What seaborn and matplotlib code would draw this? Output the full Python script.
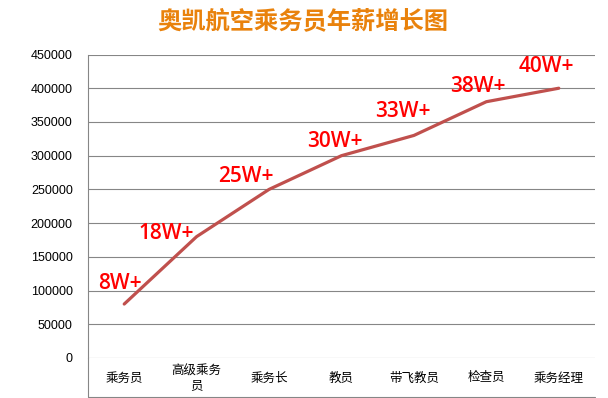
import matplotlib
matplotlib.use("Agg")
import matplotlib.pyplot as plt
import seaborn as sns
import pandas as pd

categories = ["乘务员", "高级乘务\n员", "乘务长", "教员", "带飞教员", "检查员", "乘务经理"]
salary = [80000, 180000, 250000, 300000, 330000, 380000, 400000]
point_labels = ["8W+", "18W+", "25W+", "30W+", "33W+", "38W+", "40W+"]
yticks = [0, 50000, 100000, 150000, 200000, 250000, 300000, 350000, 400000, 450000]
title = "奥凯航空乘务员年薪增长图"

# label offsets (points) relative to each data point
label_offsets = [(-3, 15), (-22, 2), (-17, 9), (-5, 10), (-8, 17), (-6, 11), (-9, 16)]

sns.set_style("white")
plt.rcParams["font.family"] = ["Noto Sans CJK SC", "DejaVu Sans"]

df = pd.DataFrame({"pos": range(len(categories)), "salary": salary})

W, H = 608, 398
fig = plt.figure(figsize=(W / 100, H / 100), dpi=100)
x0, x1, ytop, yzero, ybot = 88, 595, 54.5, 358, 397
ax = fig.add_axes([x0 / W, 1 - yzero / H, (x1 - x0) / W, (yzero - ytop) / H])

grid_c = "#868686"
for v in yticks:
    ax.axhline(v, color=grid_c, lw=0.8, zorder=1)

sns.lineplot(data=df, x="pos", y="salary", ax=ax, color="#C0504D", lw=2.3, zorder=3)

ax.set_xlim(-0.5, len(categories) - 0.5)
ax.set_ylim(0, 450000)
ax.set_yticks(yticks)
ax.set_yticklabels([str(v) for v in yticks], family="Liberation Sans", fontsize=9, color="#000000")
ax.tick_params(axis="y", length=0, pad=11)

# category boundaries as ticks extending down into the label band
band = (ybot - yzero) / (yzero - ytop)
ax.set_xticks([i - 0.5 for i in range(len(categories) + 1)])
ax.set_xticklabels([])
ax.tick_params(axis="x", length=(ybot - yzero) * 0.72, width=0.8, color=grid_c, direction="out")
ax.set_xlabel("")
ax.set_ylabel("")

for s in ["top", "right", "bottom"]:
    ax.spines[s].set_visible(False)
ax.spines["left"].set_color(grid_c)
ax.spines["left"].set_linewidth(0.8)
ax.spines["left"].set_bounds(0, 450000)

xt = ax.get_xaxis_transform()
ax.plot([-0.5, len(categories) - 0.5], [-band, -band], transform=xt, color=grid_c, lw=0.8, clip_on=False)
ax.plot([-0.5, -0.5], [0, -band], transform=xt, color=grid_c, lw=0.8, clip_on=False)

ymid = -(378 - yzero) / (yzero - ytop)
for i, c in enumerate(categories):
    ax.text(i, ymid, c, transform=xt, ha="center", va="center", fontsize=9,
            color="#000000", linespacing=1.15)

for i, (lab, off) in enumerate(zip(point_labels, label_offsets)):
    ax.annotate(lab, (i, salary[i]), xytext=off, textcoords="offset points",
                ha="center", va="center", fontsize=15, fontweight="semibold",
                color="#FF0000", family="Open Sans", zorder=4)

fig.text(303 / W, 1 - 21 / H, title, ha="center", va="center", fontsize=17.5,
         fontweight="bold", color="#E9820C")

fig.savefig("out.png", dpi=100)
